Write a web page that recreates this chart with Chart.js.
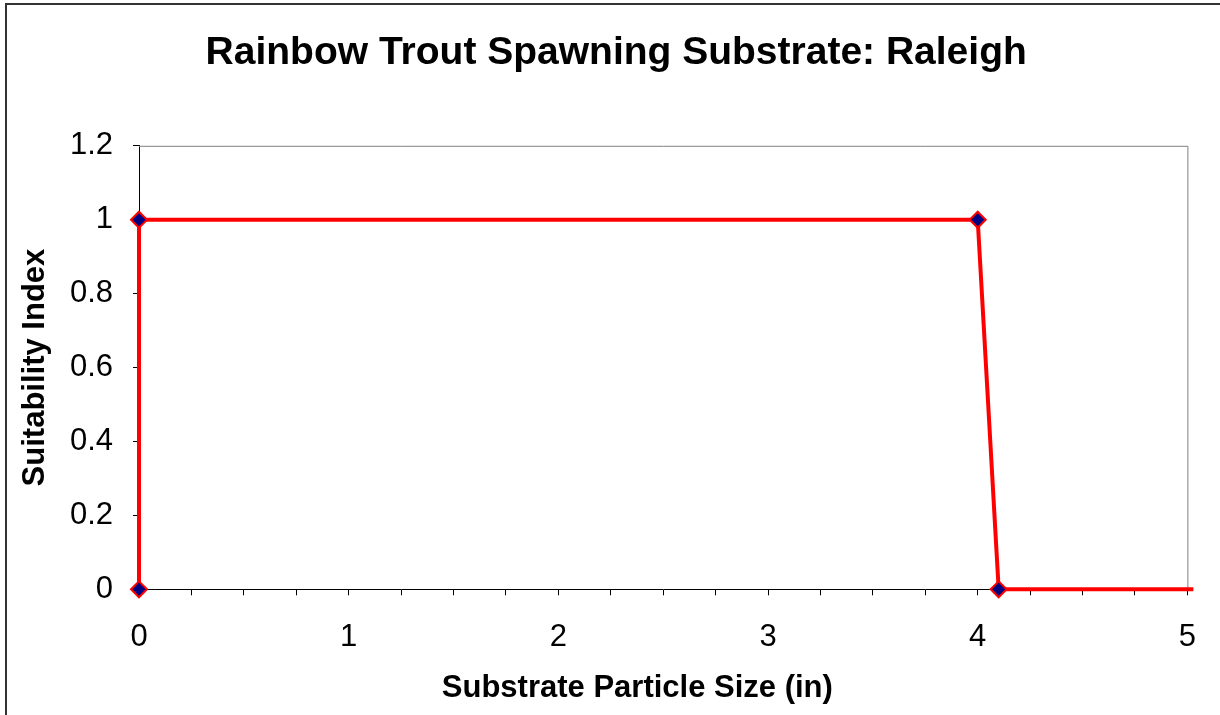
<!DOCTYPE html>
<html>
<head>
<meta charset="utf-8">
<title>Rainbow Trout Spawning Substrate: Raleigh</title>
<script src="https://cdn.jsdelivr.net/npm/chart.js@4.4.1/dist/chart.umd.min.js"></script>
<style>
  html, body { margin: 0; padding: 0; background: #fff; }
  #wrap { width: 1220px; height: 715px; }
</style>
</head>
<body>
<div id="wrap"><canvas id="habitatChart" width="1220" height="715"></canvas></div>
<script>
// Suitability curve data (particle size in inches vs. index)
const particleSize = [0, 0, 4, 4.1, 10];
const suitability = [0, 1, 1, 0, 0];

// Axis ranges
const xMin = 0, xMax = 5, xMinorStep = 0.25;
const yMin = 0, yMax = 1.2, yStep = 0.2;

const FONT = "'Liberation Sans', Arial, sans-serif";

// Outer chart frame + grey top/right plot border (Excel look)
const framePlugin = {
    id: 'frame',
    beforeDraw(chart) {
        const ctx = chart.ctx;
        ctx.save();
        ctx.fillStyle = '#fff';
        ctx.fillRect(0, 0, chart.width, chart.height);
        ctx.strokeStyle = '#333';
        ctx.lineWidth = 2;
        ctx.strokeRect(6, 4, 1400, 900);
        ctx.restore();
    },
    beforeDatasetsDraw(chart) {
        const { ctx, chartArea: a } = chart;
        ctx.save();
        ctx.strokeStyle = '#808080';
        ctx.lineWidth = 1;
        ctx.beginPath();
        ctx.moveTo(a.left, a.top + 0.5);
        ctx.lineTo(a.right + 0.5, a.top + 0.5);
        ctx.lineTo(a.right + 0.5, a.bottom);
        ctx.stroke();
        ctx.restore();
    }
};

const points = particleSize.map((x, i) => ({ x: x, y: suitability[i] }));

const ctx = document.getElementById('habitatChart').getContext('2d');
const habitatChart = new Chart(ctx, {
    type: 'scatter',
    data: {
        datasets: [{
            label: 'Suitability',
            data: points,
            showLine: true,
            borderColor: '#ff0000',
            borderWidth: 4,
            pointStyle: 'rectRot',
            pointRadius: 8,
            pointBackgroundColor: '#000080',
            pointBorderColor: '#ff0000',
            pointBorderWidth: 2,
            clip: { left: 10, top: 10, right: 6, bottom: 10 }
        }]
    },
    options: {
        responsive: false,
        animation: false,
        layout: { padding: { left: 0, right: 31, top: 0, bottom: 0 } },
        plugins: {
            legend: { display: false },
            tooltip: { enabled: false },
            title: {
                display: true,
                text: '    Rainbow Trout Spawning Substrate: Raleigh',
                color: '#000',
                font: { family: FONT, size: 39, weight: 'bold' },
                padding: { top: 30, bottom: 69 }
            }
        },
        scales: {
            x: {
                type: 'linear',
                min: xMin,
                max: xMax,
                afterFit(scale) { scale.height = 125.7; },
                ticks: {
                    stepSize: xMinorStep,
                    autoSkip: false,
                    maxRotation: 0,
                    padding: 24,
                    color: '#000',
                    font: { family: FONT, size: 31 },
                    callback: (v) => Number.isInteger(v) ? String(v) : ''
                },
                grid: { drawOnChartArea: false, drawTicks: true, tickLength: 6, color: '#000' },
                border: { display: true, color: '#000', width: 1 },
                title: {
                    display: true,
                    text: 'Substrate Particle Size (in)      ',
                    color: '#000',
                    font: { family: FONT, size: 31, weight: 'bold' },
                    padding: { top: 0, bottom: 8 }
                }
            },
            y: {
                type: 'linear',
                min: yMin,
                max: yMax,
                afterFit(scale) { scale.width = 139; },
                ticks: {
                    stepSize: yStep,
                    padding: 20,
                    color: '#000',
                    font: { family: FONT, size: 31 },
                    callback: (v) => String(Number(v.toFixed(1)))
                },
                grid: { drawOnChartArea: false, drawTicks: true, tickLength: 6, color: '#000' },
                border: { display: true, color: '#000', width: 1 },
                title: {
                    display: true,
                    text: 'Suitability Index',
                    color: '#000',
                    font: { family: FONT, size: 31, weight: 'bold' },
                    padding: { top: 17, bottom: 0 }
                }
            }
        }
    },
    plugins: [framePlugin]
});
</script>
</body>
</html>
